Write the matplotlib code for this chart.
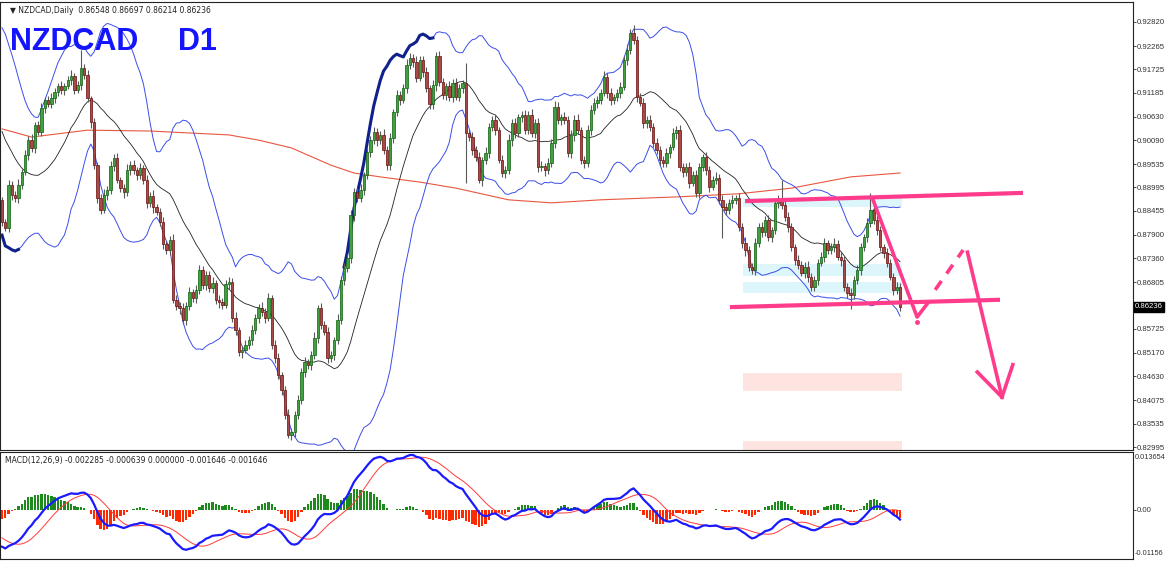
import numpy as np
import pandas as pd
import matplotlib.pyplot as plt
from matplotlib.patches import Rectangle
from matplotlib.transforms import blended_transform_factory

#%% Data (daily closes)

history = [0.9200, 0.9185, 0.9170, 0.9160, 0.9150, 0.9130, 0.9120, 0.9100, 0.9060, 0.9075,
           0.9030, 0.8985, 0.9000, 0.8950, 0.8915, 0.8930, 0.8880, 0.8850, 0.8870]

closes = [0.8820, 0.8806, 0.8905, 0.8882, 0.8875, 0.8905, 0.8935, 0.8975, 0.9009, 0.8991,
          0.9044, 0.9028, 0.9083, 0.9102, 0.9092, 0.9106, 0.9120, 0.9134, 0.9125, 0.9134,
          0.9148, 0.9157, 0.9125, 0.9136, 0.9176, 0.9160, 0.9106, 0.9051, 0.8951, 0.8875,
          0.8848, 0.8882, 0.8894, 0.8949, 0.8968, 0.8917, 0.8898, 0.8889, 0.8940, 0.8951,
          0.8940, 0.8928, 0.8945, 0.8917, 0.8864, 0.8880, 0.8854, 0.8843, 0.8820, 0.8769,
          0.8755, 0.8778, 0.8640, 0.8626, 0.8621, 0.8593, 0.8626, 0.8658, 0.8644, 0.8663,
          0.8709, 0.8674, 0.8697, 0.8667, 0.8679, 0.8640, 0.8635, 0.8628, 0.8677, 0.8681,
          0.8598, 0.8570, 0.8519, 0.8524, 0.8536, 0.8547, 0.8570, 0.8598, 0.8621, 0.8612,
          0.8598, 0.8644, 0.8536, 0.8506, 0.8466, 0.8432, 0.8374, 0.8328, 0.8334, 0.8374,
          0.8408, 0.8473, 0.8496, 0.8489, 0.8512, 0.8552, 0.8621, 0.8582, 0.8566, 0.8506,
          0.8512, 0.8547, 0.8593, 0.8686, 0.8714, 0.8737, 0.8836, 0.8889, 0.8875, 0.8894,
          0.8928, 0.8982, 0.9009, 0.9028, 0.9009, 0.9021, 0.8986, 0.8951, 0.9014, 0.9074,
          0.9113, 0.9102, 0.9129, 0.9183, 0.9199, 0.9190, 0.9153, 0.9194, 0.9166, 0.9129,
          0.9092, 0.9136, 0.9203, 0.9143, 0.9113, 0.9134, 0.9109, 0.9141, 0.9109, 0.9129,
          0.9141, 0.9025, 0.9016, 0.8986, 0.8970, 0.8917, 0.8963, 0.8979, 0.9039, 0.9056,
          0.9032, 0.8963, 0.8933, 0.8940, 0.9009, 0.9049, 0.9025, 0.9062, 0.9067, 0.9032,
          0.9067, 0.9025, 0.9049, 0.8947, 0.8949, 0.8940, 0.8956, 0.9002, 0.9086, 0.9056,
          0.9062, 0.9056, 0.8979, 0.9021, 0.9056, 0.9032, 0.8963, 0.8956, 0.9032, 0.9079,
          0.9095, 0.9102, 0.9118, 0.9155, 0.9118, 0.9102, 0.9109, 0.9118, 0.9132, 0.9194,
          0.9217, 0.9257, 0.9240, 0.9109, 0.9095, 0.9049, 0.9056, 0.9039, 0.9002, 0.8986,
          0.8963, 0.8956, 0.8979, 0.8993, 0.9025, 0.9032, 0.8947, 0.8935, 0.8947, 0.8910,
          0.8928, 0.8887, 0.8947, 0.8970, 0.8940, 0.8901, 0.8917, 0.8922, 0.8871, 0.8854,
          0.8848, 0.8864, 0.8871, 0.8875, 0.8808, 0.8771, 0.8755, 0.8716, 0.8709, 0.8771,
          0.8808, 0.8797, 0.8824, 0.8785, 0.8801, 0.8864, 0.8871, 0.8859, 0.8831, 0.8808,
          0.8762, 0.8732, 0.8720, 0.8702, 0.8716, 0.8693, 0.8670, 0.8686, 0.8725, 0.8739,
          0.8771, 0.8755, 0.8762, 0.8769, 0.8739, 0.8732, 0.8670, 0.8656, 0.8651, 0.8686,
          0.8709, 0.8762, 0.8785, 0.8817, 0.8848, 0.8824, 0.8801, 0.8762, 0.8748, 0.8725,
          0.8693, 0.8663, 0.8670, 0.86236]

# wick lengths in pips above / below the body
hi_wick = [8, 6, 12, 9, 10, 14, 7, 11, 9, 13, 8, 10, 12, 7, 9, 11, 10, 6, 12, 8,
           9, 13, 7, 10, 41, 8, 12, 6, 9, 7, 10, 14, 8, 11, 9, 12, 7, 10, 13, 9,
           11, 8, 10, 7, 12, 9, 14, 8, 10, 11, 7, 9, 13, 10, 8, 12, 9, 11, 7, 10,
           12, 8, 10, 9, 13, 7, 11, 10, 8, 12, 9, 14, 7, 10, 11, 9, 12, 8, 10, 13,
           9, 11, 7, 10, 12, 8, 9, 13, 10, 8, 11, 9, 12, 7, 10, 14, 8, 11, 9, 12,
           10, 7, 13, 9, 11, 8, 12, 10, 9, 14, 7, 11, 10, 12, 8, 9, 13, 10, 11, 8,
           12, 9, 10, 14, 11, 8, 13, 9, 10, 12, 7, 11, 9, 13, 10, 8, 12, 9, 11, 10,
           8, 46, 10, 12, 9, 11, 7, 13, 10, 9, 12, 8, 11, 10, 14, 9, 12, 8, 10, 11,
           9, 13, 8, 10, 12, 7, 11, 9, 14, 10, 8, 12, 9, 11, 10, 13, 8, 9, 12, 10,
           11, 8, 10, 13, 9, 12, 7, 10, 11, 9, 14, 8, 18, 10, 9, 12, 8, 11, 10, 13,
           9, 10, 12, 8, 11, 9, 13, 10, 8, 12, 9, 11, 10, 7, 12, 9, 10, 13, 8, 11,
           10, 9, 12, 8, 11, 10, 13, 9, 8, 12, 10, 11, 9, 13, 8, 10, 12, 46, 9, 11,
           10, 8, 12, 9, 11, 13, 8, 10, 9, 12, 11, 8, 10, 13, 9, 11, 10, 8, 12, 9,
           11, 10, 8, 12, 39, 9, 11, 10, 8, 12, 9, 10, 11, 8]
lo_wick = [10, 7, 9, 12, 8, 11, 10, 6, 13, 9, 11, 8, 10, 12, 7, 9, 11, 8, 10, 12,
           8, 11, 9, 7, 12, 10, 8, 13, 9, 11, 10, 7, 12, 9, 11, 8, 10, 13, 9, 11,
           9, 12, 8, 10, 11, 9, 13, 8, 10, 12, 9, 11, 8, 10, 13, 9, 11, 10, 8, 12,
           10, 9, 12, 8, 11, 10, 13, 9, 8, 12, 10, 11, 9, 13, 8, 10, 12, 9, 11, 10,
           12, 8, 10, 11, 9, 13, 10, 8, 12, 11, 9, 10, 12, 8, 11, 9, 13, 10, 8, 12,
           9, 11, 10, 8, 12, 9, 11, 13, 10, 8, 12, 9, 11, 10, 13, 9, 8, 12, 10, 11,
           10, 12, 8, 11, 9, 13, 10, 8, 12, 9, 11, 10, 13, 8, 10, 12, 9, 11, 8, 10,
           12, 115, 9, 11, 10, 8, 13, 9, 12, 10, 11, 8, 10, 12, 9, 13, 10, 8, 11, 9,
           10, 8, 12, 11, 9, 13, 10, 8, 12, 9, 11, 10, 8, 12, 13, 9, 10, 11, 8, 12,
           9, 12, 10, 8, 11, 13, 9, 10, 12, 8, 11, 9, 10, 12, 8, 11, 13, 9, 10, 8,
           12, 10, 9, 11, 8, 13, 10, 12, 9, 11, 8, 10, 12, 9, 11, 13, 8, 10, 9, 72,
           11, 9, 12, 10, 8, 11, 13, 9, 10, 12, 8, 11, 9, 10, 12, 8, 11, 9, 10, 12,
           9, 11, 10, 8, 12, 13, 9, 10, 11, 8, 12, 9, 10, 11, 8, 13, 10, 12, 32, 9,
           10, 12, 9, 11, 8, 10, 12, 9, 11, 10, 8, 12, 9, 10]

# 200-day MA (red), read at a few bars
ma200_bar = [0, 9, 26, 45, 69, 78, 88, 100, 107, 115, 127, 138, 154, 167, 182, 206, 224, 240, 258, 273]
ma200_val = [0.9035, 0.9016, 0.9032, 0.9030, 0.9021, 0.9009, 0.8991, 0.8951, 0.8933, 0.8924,
             0.8912, 0.8898, 0.8871, 0.8864, 0.8871, 0.8878, 0.8885, 0.8898, 0.8924, 0.8933]

price_ticks = [0.92820, 0.92265, 0.91725, 0.91185, 0.90630, 0.90090, 0.89535, 0.88995, 0.88455,
               0.87900, 0.87360, 0.86805, 0.85725, 0.85170, 0.84630, 0.84075, 0.83535, 0.82995]
last_price = 0.86236
macd_top, macd_bottom = 0.013654, -0.01156

# analyst drawings (bar index, price)
zone_bars = [225.3, 273.6]
cyan_zones = [[0.8854, 0.8875], [0.8695, 0.8723], [0.8656, 0.8681]]
pink_zones = [[0.8429, 0.8471], [0.8290, 0.8314]]
res_bars, res_prices = [225.9, 310.4], [0.8868, 0.8887]
sup_bars, sup_prices = [221.3, 303.4], [0.8623, 0.8640]
drop_bars, drop_prices = [264.8, 278.2, 281.5], [0.8871, 0.8600, 0.8633]
dash_bars, dash_prices = [283.7, 292.2], [0.8663, 0.8755]
fall_bars, fall_prices = [293.5, 304.0], [0.8750, 0.8415]
head_l_bars, head_l_prices = [296.5, 304.0], [0.8473, 0.8415]
head_r_bars, head_r_prices = [307.3, 304.0], [0.8490, 0.8415]

#%% Indicators

s = pd.Series(history + closes)
k = len(history)
mid = s.rolling(20).mean()
sd = s.rolling(20).std(ddof=0)
upper = (mid + 2 * sd).values[k:]
lower = (mid - 2 * sd).values[k:]
mid = mid.values[k:]
macd = s.ewm(span=12, adjust=False).mean() - s.ewm(span=26, adjust=False).mean()
signal = macd.rolling(9).mean()
macd = macd.values[k:]
signal = signal.values[k:]
hist = macd - signal

c = np.array(closes)
o = s.values[k - 1:-1]
n = len(c)
x = np.arange(n)
top = np.maximum(o, c)
bot = np.minimum(o, c)
highs = top + np.array(hi_wick[:n]) * 1e-4
lows = bot - np.array(lo_wick[:n]) * 1e-4

#%% Figure

W, H = 1166, 561
fig = plt.figure(figsize=(W / 100, H / 100), dpi=100)
fig.patch.set_facecolor('white')
plt.rcParams['font.family'] = ['DejaVu Sans']
axis_font = dict(family='Liberation Sans', size=5.6)

step = 898 / (n - 1)
xlim = (-2 / step, 1131 / step)

ax = fig.add_axes([0, 1 - 450 / H, 1133 / W, 448 / H])
ax2 = fig.add_axes([0, 1 - 559 / H, 1133 / W, 107 / H])
ax.set_xlim(xlim)
ax2.set_xlim(xlim)
ax.set_ylim(0.82928, 0.93282)
ax2.set_ylim(macd_bottom, macd_top)

for a in (ax, ax2):
    a.set_xticks([])
    for sp in a.spines.values():
        sp.set_color('#222222')
        sp.set_linewidth(0.8)

# zones
for z in cyan_zones:
    ax.add_patch(Rectangle((zone_bars[0], z[0]), zone_bars[1] - zone_bars[0], z[1] - z[0],
                           facecolor='#dcf6fb', edgecolor='none', zorder=0))
for z in pink_zones:
    ax.add_patch(Rectangle((zone_bars[0], z[0]), zone_bars[1] - zone_bars[0], z[1] - z[0],
                           facecolor='#fde4e1', edgecolor='none', zorder=0))

# moving averages and bands
ax.plot(ma200_bar, ma200_val, color='#e8573f', lw=0.8, zorder=1)
ax.plot(x, mid, color='#202020', lw=0.6, zorder=1)
ax.plot(x, upper, color='#3a4ee8', lw=0.7, zorder=1)
ax.plot(x, lower, color='#3a4ee8', lw=0.7, zorder=1)
ax.plot(x[104:132], upper[104:132], color='#10208c', lw=2.2, zorder=1)
ax.plot(x[0:6], lower[0:6], color='#10208c', lw=2.2, zorder=1)

# candles
ax.vlines(x, lows, highs, color='#5a5a5a', lw=0.8, zorder=2)
bull = c >= o
hgt = np.maximum(top - bot, 0.00012)
ax.bar(x[bull], hgt[bull], bottom=bot[bull], width=0.72, color='#42a042',
       edgecolor='#0d5f0d', lw=0.5, zorder=3)
ax.bar(x[~bull], hgt[~bull], bottom=bot[~bull], width=0.72, color='#a84a48',
       edgecolor='#6b0c0c', lw=0.5, zorder=3)

# drawings
pink = '#ff3b8b'
ax.plot(res_bars, res_prices, color=pink, lw=3, solid_capstyle='butt', zorder=4)
ax.plot(sup_bars, sup_prices, color=pink, lw=3, solid_capstyle='butt', zorder=4)
ax.plot(drop_bars, drop_prices, color=pink, lw=2.6, zorder=4)
ax.plot(dash_bars, dash_prices, color=pink, lw=2.6, ls=(0, (3, 2.5)), zorder=4)
ax.plot(fall_bars, fall_prices, color=pink, lw=2.6, zorder=4)
ax.plot(head_l_bars, head_l_prices, color=pink, lw=2.6, zorder=4)
ax.plot(head_r_bars, head_r_prices, color=pink, lw=2.6, zorder=4)
ax.plot([278.3], [0.8589], marker='o', ms=2.5, color=pink, zorder=4)

# price axis
ax.yaxis.tick_right()
ax.set_yticks(price_ticks)
ax.set_yticklabels([f'{v:.5f}' for v in price_ticks], fontdict=axis_font)
ax.tick_params(axis='y', length=2, width=0.6, pad=1, colors='#333333')
tr = blended_transform_factory(ax.transAxes, ax.transData)
ax.text(1.0018, last_price, f'{last_price:.5f}', transform=tr, color='white',
        va='center', ha='left', bbox=dict(facecolor='black', edgecolor='black', pad=1.0), **axis_font)

# headers
ax.text(0.009, 0.99, '\u25BC NZDCAD,Daily  0.86548 0.86697 0.86214 0.86236', transform=ax.transAxes,
        fontsize=5.5, va='top', ha='left', color='#222222')
fig.text(10 / W, 1 - 50 / H, 'NZDCAD', fontsize=22, fontweight='bold', color='#1414ff',
         family='Liberation Sans', va='baseline', ha='left')
fig.text(178 / W, 1 - 50 / H, 'D1', fontsize=22, fontweight='bold', color='#1414ff',
         family='Liberation Sans', va='baseline', ha='left')

# MACD panel
pos = hist >= 0
ax2.bar(x[pos], hist[pos], width=0.72, color='#1e8a1e', lw=0)
ax2.bar(x[~pos], hist[~pos], width=0.72, color='#ff2a00', lw=0)
ax2.plot(x, signal, color='#ff3a3a', lw=0.7)
ax2.plot(x, macd, color='#1a1aff', lw=1.6)
ax2.yaxis.tick_right()
ax2.set_yticks([0.0])
ax2.set_yticklabels(['0.00'], fontdict=axis_font)
ax2.tick_params(axis='y', length=2, width=0.6, pad=1, colors='#333333')
tr2 = blended_transform_factory(ax2.transAxes, ax2.transAxes)
ax2.text(1.0018, 0.985, f'{macd_top:.6f}', transform=tr2, va='top', ha='left', color='#333333',
         family='Liberation Sans', size=5.3)
ax2.text(1.0018, 0.015, f'{macd_bottom:.5f}', transform=tr2, va='bottom', ha='left', color='#333333',
         family='Liberation Sans', size=5.3)
ax2.text(0.004, 0.96, 'MACD(12,26,9) -0.002285 -0.000639 0.000000 -0.001646 -0.001646', transform=ax2.transAxes,
         fontsize=5.5, va='top', ha='left', color='#222222')

fig.savefig('out.png', dpi=100)
